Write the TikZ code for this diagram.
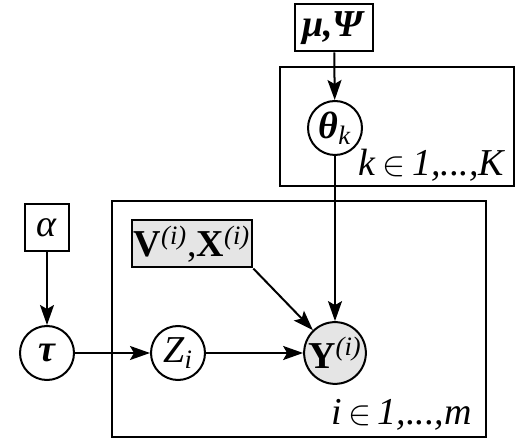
\documentclass[tikz,border=0pt]{standalone}
\usepackage{amsmath}
\usepackage{fontspec}
\setmainfont{Liberation Serif}
\usetikzlibrary{arrows.meta, positioning}

\begin{document}
\begin{tikzpicture}[x=0.5pt, y=-0.5pt,
    font=\fontsize{19}{22}\selectfont,
    latent/.style={circle, draw, line width=1pt, minimum size=27pt, inner sep=0pt},
    observed/.style={latent, fill=black!10},
    hyper/.style={rectangle, draw, line width=1pt, minimum height=23.5pt, inner sep=2pt},
    plate/.style={draw, line width=0.9pt},
    platelabel/.style={anchor=base east, inner sep=0pt},
    edge/.style={-{Stealth[length=10pt, width=7pt, inset=2pt]}, line width=1pt}
  ]
    \useasboundingbox (0,0) rectangle (519,442);

    % plates
    \draw[plate] (280,67) rectangle (514,186);
    \draw[plate] (112,201) rectangle (486,437);
    \node[platelabel] at (506,176) {\textit{k}\,{$\in$}\,\textit{1,...,K}};
    \node[platelabel] at (472,425) {\textit{i}\,{$\in$}\,\textit{1,...,m}};

    % nodes
    \node[hyper, minimum width=39pt] (muPsi) at (334,28) {\textbf{\textit{μ,Ψ}}};
    \node[latent] (theta) at (335,128) {\textbf{\textit{θ}}$_{\textit{k}}$};
    \node[hyper, minimum width=22pt] (alpha) at (47,228) {\textit{α}};
    \node[latent] (tau) at (47,353) {\textbf{\textit{τ}}};
    \node[latent] (Z) at (178,353) {\textit{Z}$_{\textit{i}}$};
    \node[observed] (Y) at (335,353) {\textbf{Y}$^{\textit{(i)}}$};
    \node[hyper, fill=black!10, minimum width=56.5pt, inner sep=1pt] (VX) at (192,244)
      {\textbf{V}$^{\textit{(i)}}$,\textbf{X}$^{\textit{(i)}}$};

    % edges
    \draw[edge] (muPsi) -- (theta);
    \draw[edge] (theta) -- (Y);
    \draw[edge] (alpha) -- (tau);
    \draw[edge] (tau) -- (Z);
    \draw[edge] (Z) -- (Y);
    \draw[edge] (VX.south east) -- (Y);
\end{tikzpicture}
\end{document}
